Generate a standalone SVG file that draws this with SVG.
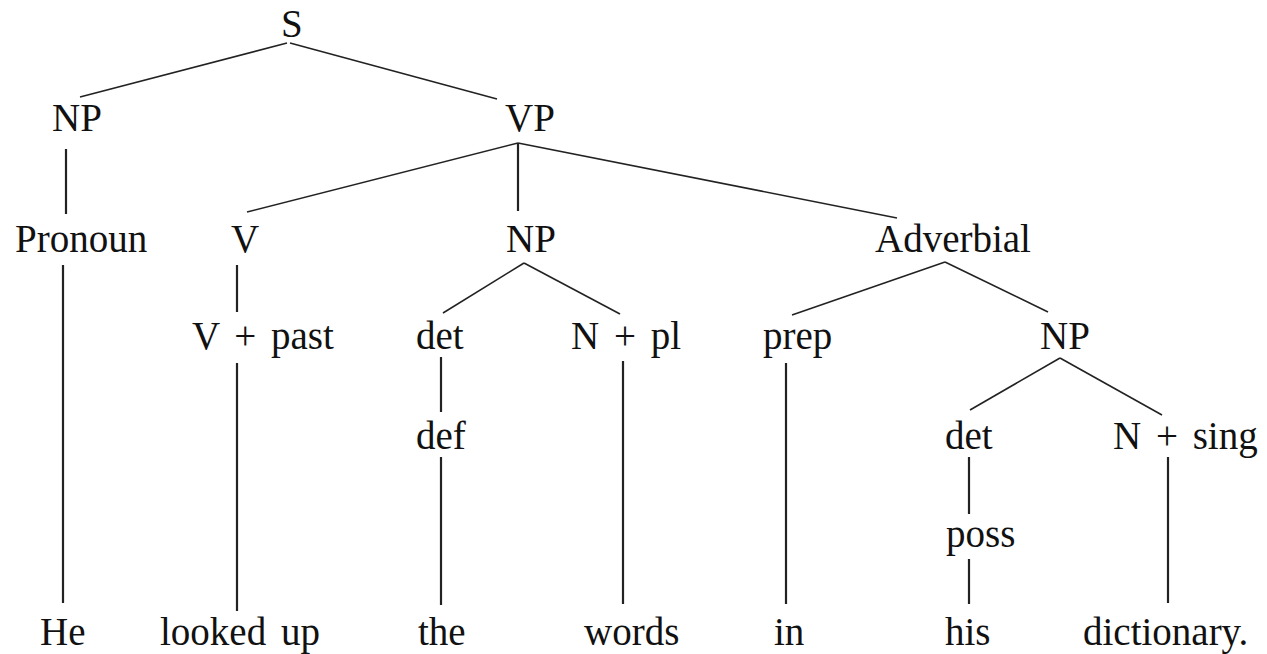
<svg xmlns="http://www.w3.org/2000/svg" width="1267" height="654" viewBox="0 0 1267 654">
  <style>
    .lbl { font-family: "Liberation Serif", "Times New Roman", serif; font-size: 39px; fill: #111; }
    .wide { word-spacing: 5px; }
    .edge { stroke: #222; stroke-width: 1.6; fill: none; stroke-linecap: butt; }
    .stem { stroke: #222; stroke-width: 2.2; fill: none; }
  </style>
  <rect width="1267" height="654" fill="#ffffff"/>

  <!-- branches of the phrase-structure tree -->
  <g id="connectors">
    <line class="edge" x1="287" y1="43" x2="80" y2="97"/>
    <line class="edge" x1="290" y1="43" x2="497" y2="99"/>
    <line class="stem" x1="66" y1="149" x2="66" y2="214"/>
    <line class="edge" x1="518" y1="143" x2="247" y2="212"/>
    <line class="stem" x1="518" y1="143" x2="518" y2="211"/>
    <line class="edge" x1="518" y1="143" x2="897" y2="218"/>
    <line class="stem" x1="63" y1="265" x2="63" y2="603"/>
    <line class="stem" x1="237" y1="265" x2="237" y2="312"/>
    <line class="edge" x1="524" y1="263" x2="443" y2="313"/>
    <line class="edge" x1="524" y1="263" x2="620" y2="314"/>
    <line class="edge" x1="945" y1="262" x2="792" y2="315"/>
    <line class="edge" x1="945" y1="262" x2="1048" y2="312"/>
    <line class="stem" x1="237" y1="363" x2="237" y2="611"/>
    <line class="stem" x1="441" y1="357" x2="441" y2="412"/>
    <line class="stem" x1="623" y1="361" x2="623" y2="604"/>
    <line class="stem" x1="786" y1="363" x2="786" y2="604"/>
    <line class="edge" x1="1060" y1="358" x2="970" y2="410"/>
    <line class="edge" x1="1060" y1="358" x2="1162" y2="415"/>
    <line class="stem" x1="441" y1="457" x2="441" y2="605"/>
    <line class="stem" x1="969" y1="457" x2="969" y2="514"/>
    <line class="stem" x1="1168" y1="457" x2="1168" y2="603"/>
    <line class="stem" x1="969" y1="559" x2="969" y2="604"/>
  </g>

  <!-- category labels -->
  <g id="n-S"><text class="lbl" x="281" y="37">S</text></g>
  <g id="n-NP1"><text class="lbl" x="52" y="131">NP</text></g>
  <g id="n-VP"><text class="lbl" x="505" y="131">VP</text></g>
  <g id="n-Pronoun"><text class="lbl" x="15" y="252">Pronoun</text></g>
  <g id="n-V"><text class="lbl" x="231" y="252">V</text></g>
  <g id="n-NP2"><text class="lbl" x="506" y="252">NP</text></g>
  <g id="n-Adverbial"><text class="lbl" x="875" y="252">Adverbial</text></g>
  <g id="n-Vpast"><text class="lbl wide" x="192" y="349">V + past</text></g>
  <g id="n-det1"><text class="lbl" x="416" y="349">det</text></g>
  <g id="n-Npl"><text class="lbl wide" x="571" y="349">N + pl</text></g>
  <g id="n-prep"><text class="lbl" x="763" y="349">prep</text></g>
  <g id="n-NP3"><text class="lbl" x="1040" y="349">NP</text></g>
  <g id="n-def"><text class="lbl" x="416" y="449">def</text></g>
  <g id="n-det2"><text class="lbl" x="945" y="449">det</text></g>
  <g id="n-Nsing"><text class="lbl wide" x="1113" y="449">N + sing</text></g>
  <g id="n-poss"><text class="lbl" x="946" y="547">poss</text></g>

  <!-- terminal words -->
  <g id="w-He"><text class="lbl" x="40" y="645">He</text></g>
  <g id="w-lookedup"><text class="lbl wide" x="160" y="645">looked up</text></g>
  <g id="w-the"><text class="lbl" x="418" y="645">the</text></g>
  <g id="w-words"><text class="lbl" x="584" y="645">words</text></g>
  <g id="w-in"><text class="lbl" x="774" y="645">in</text></g>
  <g id="w-his"><text class="lbl" x="945" y="645">his</text></g>
  <g id="w-dictionary"><text class="lbl" x="1083" y="645">dictionary.</text></g>
</svg>
